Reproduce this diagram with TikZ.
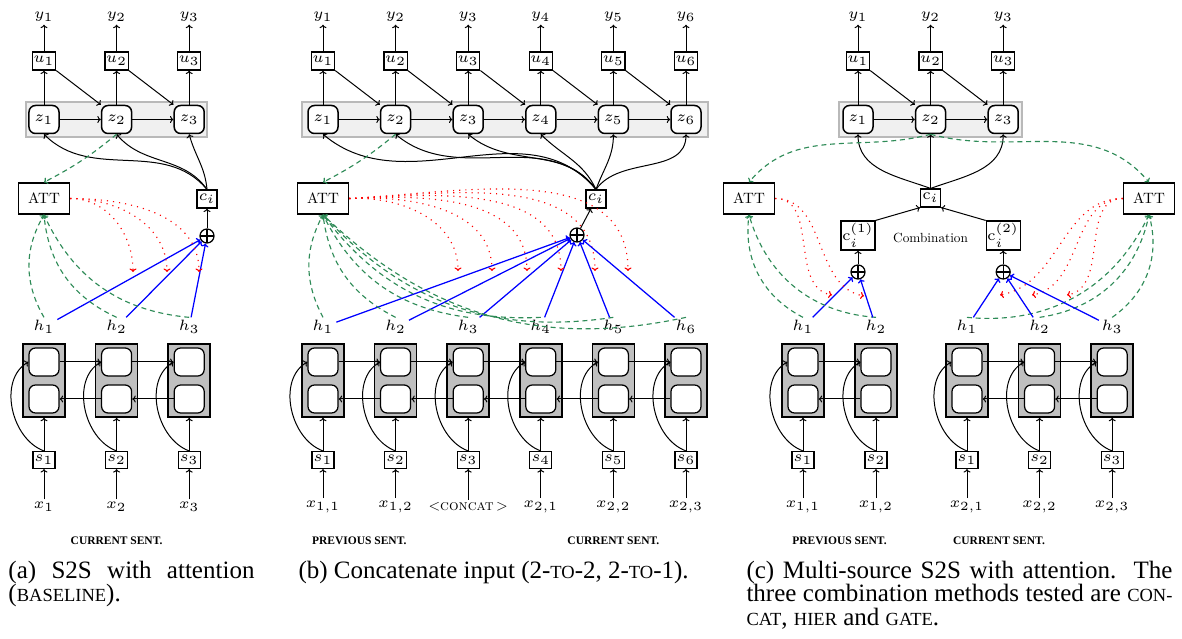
\documentclass[tikz,border=0pt]{standalone}
\usepackage{fontspec}
\newfontfamily\capfont{Liberation Serif}
\usetikzlibrary{arrows.meta}
\definecolor{sgreen}{RGB}{46,139,87}
\newcommand\fsc[1]{{\fontsize{7.4}{9}\selectfont #1}}
\newcommand\dfont{\fontsize{6}{7}\selectfont}
\newcommand\stxt[2]{\scalebox{#1}{\fontsize{10}{12}\selectfont #2}}
\newcommand\deccol[3]{%
  \node[lbl] (#1y#2) at (#3,17) {$y_{#2}$};
  \node[ubox] (#1u#2) at (#3,61) {$u_{#2}$};
  \node[zbox] (#1z#2) at (#3,119.5) {$z_{#2}$};
  \draw[arr] (#1z#2) -- (#1u#2);
  \draw[arr] (#1u#2) -- (#1y#2);
}
\newcommand\enccol[4]{%
  \node[lbl] (#1h#2) at (#3,327) {$h_{#2}$};
  \node[enc] (#1e#2) at (#3,380.5) {};
  \node[cell] (#1t#2) at (#3,362) {};
  \node[cell] (#1b#2) at (#3,399) {};
  \node[sbox] (#1s#2) at (#3,460) {$s_{#2}$};
  \node[lbl] (#1x#2) at (#3,507) {#4};
  \draw[arr] (#1x#2) -- (#1s#2);
  \draw[arr] (#1s#2) -- (#1e#2);
  \draw[arr] (#1s#2.north) to[out=160,in=210] (#1t#2.west);
}
\begin{document}
\begin{tikzpicture}[x=0.4pt,y=-0.4pt,
  >={To[length=1.4pt,width=2.8pt]},
  every node/.style={font=\dfont},
  lbl/.style={inner sep=1pt},
  ubox/.style={draw,line width=0.45pt,minimum width=9.2pt,minimum height=7.2pt,inner sep=0.5pt},
  zbox/.style={draw,line width=0.6pt,rounded corners=2.6pt,fill=white,minimum width=12pt,minimum height=11.2pt,inner sep=0.5pt},
  band/.style={draw=gray!55,fill=gray!12,line width=0.6pt},
  attbox/.style={draw,line width=0.6pt,minimum width=20.4pt,minimum height=12.4pt,inner sep=0.5pt},
  cbox/.style={draw,line width=0.45pt,minimum width=8pt,minimum height=7.2pt,inner sep=0.5pt},
  cmbox/.style={draw,line width=0.45pt,minimum width=12.4pt,minimum height=11.6pt,inner sep=0.5pt},
  opl/.style={circle,draw,line width=0.5pt,minimum size=5.6pt,inner sep=0pt,
    path picture={\draw[line width=0.5pt] (path picture bounding box.north) -- (path picture bounding box.south)
      (path picture bounding box.west) -- (path picture bounding box.east);}},
  enc/.style={draw,fill=black!25,line width=0.6pt,minimum width=16.8pt,minimum height=29.2pt,inner sep=0pt},
  cell/.style={draw,fill=white,rounded corners=2.6pt,line width=0.5pt,minimum width=12pt,minimum height=11.2pt,inner sep=0pt},
  sbox/.style={draw,line width=0.45pt,minimum width=8.8pt,minimum height=6.8pt,inner sep=0.5pt},
  arr/.style={->,line width=0.4pt},
  gdash/.style={->,sgreen,line width=0.45pt,dash pattern=on 2pt off 1.5pt},
  rdot/.style={->,red,line width=0.45pt,dotted},
  bl/.style={->,blue,line width=0.5pt},
  sent/.style={font=\capfont\fontsize{4.6}{5}\selectfont\bfseries,inner sep=0pt},
  capt/.style={font=\capfont\fontsize{10}{9.4}\selectfont,anchor=base west,inner sep=0pt,align=justify}
]
\fill[white] (0,0) rectangle (1182,639);
\useasboundingbox (0,0) rectangle (1182,639);

% ================= (a) =================
\draw[band] (26,102) rectangle (207,137);
\deccol{a}{1}{44}
\deccol{a}{2}{116.6}
\deccol{a}{3}{189.2}
\foreach \i/\j in {1/2,2/3} {
  \draw[arr] (az\i) -- (az\j);
  \draw[arr] (au\i.south east) -- (az\j.north west);
}
\enccol{a}{1}{44}{$x_1$}
\enccol{a}{2}{116.6}{$x_2$}
\enccol{a}{3}{189.2}{$x_3$}
\foreach \i/\j in {1/2,2/3} {
  \draw[arr] (at\i.east) -- (at\j.west);
  \draw[arr] (ab\j.west) -- (ab\i.east);
}
\node[attbox] (aatt) at (44,198.5) {\stxt{0.6}{ATT}};
\node[cbox] (aci) at (207,199) {$c_i$};
\node[opl] (aop) at (207,236) {};
\draw[arr] (aop) -- (aci);
\draw[arr] (aci.north) to[out=130,in=-45] (az1.south);
\draw[arr] (aci.north) to[out=125,in=-50] (az2.south);
\draw[arr] (aci.north) to[out=95,in=-75] (az3.south);
\draw[gdash] (az2.south) to[bend left=6] (aatt.north);
\coordinate (ar1) at (133,272);
\coordinate (ar2) at (167,272);
\coordinate (ar3) at (199,272);
\foreach \i in {1,2,3} {
  \draw[gdash] (ah\i.north) to[bend left=30] (aatt.south);
  \draw[bl] (ah\i) -- (aop);
  \draw[rdot] (aatt.east) to[out=0,in=90] (ar\i);
}
\node[sent] (asent) at (116.6,541) {CURRENT SENT.};

% ================= (b) =================
\draw[band] (302,102) rectangle (708,137);
\deccol{b}{1}{323}
\deccol{b}{2}{395.6}
\deccol{b}{3}{468.2}
\deccol{b}{4}{540.8}
\deccol{b}{5}{613.4}
\deccol{b}{6}{686}
\foreach \i/\j in {1/2,2/3,3/4,4/5,5/6} {
  \draw[arr] (bz\i) -- (bz\j);
  \draw[arr] (bu\i.south east) -- (bz\j.north west);
}
\enccol{b}{1}{323}{$x_{1,1}$}
\enccol{b}{2}{395.6}{$x_{1,2}$}
\enccol{b}{3}{468.2}{\stxt{0.6}{$<$\textsc{concat}$\,>$}}
\enccol{b}{4}{540.8}{$x_{2,1}$}
\enccol{b}{5}{613.4}{$x_{2,2}$}
\enccol{b}{6}{686}{$x_{2,3}$}
\foreach \i/\j in {1/2,2/3,3/4,4/5,5/6} {
  \draw[arr] (bt\i.east) -- (bt\j.west);
  \draw[arr] (bb\j.west) -- (bb\i.east);
}
\node[attbox] (batt) at (323,198.5) {\stxt{0.6}{ATT}};
\node[cbox] (bci) at (596,199) {$c_i$};
\node[opl] (bop) at (577,235) {};
\draw[arr] (bop) -- (bci);
\draw[arr] (bci.north) to[out=130,in=-40] (bz1.south);
\draw[arr] (bci.north) to[out=128,in=-40] (bz2.south);
\draw[arr] (bci.north) to[out=125,in=-40] (bz3.south);
\draw[arr] (bci.north) to[out=115,in=-45] (bz4.south);
\draw[arr] (bci.north) to[out=70,in=-90] (bz5.south);
\draw[arr] (bci.north) to[out=55,in=-90] (bz6.south);
\draw[gdash] (bz2.south) to[bend left=6] (batt.north);
\coordinate (br1) at (458,271);
\coordinate (br2) at (492,271);
\coordinate (br3) at (527,271);
\coordinate (br4) at (561,271);
\coordinate (br5) at (595,271);
\coordinate (br6) at (628,271);
\foreach \i in {1,...,6} {
  \draw[gdash] (bh\i.north) to[bend left=28] (batt.south);
  \draw[bl] (bh\i) -- (bop);
  \draw[rdot] (batt.east) to[out=3,in=90] (br\i);
}
\node[sent] (bsent1) at (359.3,541) {PREVIOUS SENT.};
\node[sent] (bsent2) at (613.4,541) {CURRENT SENT.};

% ================= (c) =================
\draw[band] (839,102) rectangle (1022,137);
\deccol{c}{1}{858}
\deccol{c}{2}{930.6}
\deccol{c}{3}{1003.2}
\foreach \i/\j in {1/2,2/3} {
  \draw[arr] (cz\i) -- (cz\j);
  \draw[arr] (cu\i.south east) -- (cz\j.north west);
}
\enccol{l}{1}{803}{$x_{1,1}$}
\enccol{l}{2}{876}{$x_{1,2}$}
\draw[arr] (lt1.east) -- (lt2.west);
\draw[arr] (lb2.west) -- (lb1.east);
\enccol{r}{1}{967}{$x_{2,1}$}
\enccol{r}{2}{1039.6}{$x_{2,2}$}
\enccol{r}{3}{1112.2}{$x_{2,3}$}
\foreach \i/\j in {1/2,2/3} {
  \draw[arr] (rt\i.east) -- (rt\j.west);
  \draw[arr] (rb\j.west) -- (rb\i.east);
}
\node[attbox] (latt) at (749,198.5) {\stxt{0.6}{ATT}};
\node[attbox] (ratt) at (1149,198.5) {\stxt{0.6}{ATT}};
\node[cbox] (cci) at (930.6,198) {$\mathrm{c}_i$};
\node[cmbox] (cc1) at (858,235.5) {$\mathrm{c}_i^{(1)}$};
\node[cmbox] (cc2) at (1003.2,235.5) {$\mathrm{c}_i^{(2)}$};
\node[inner sep=0pt] (comb) at (930.6,238) {\stxt{0.53}{Combination}};
\node[opl] (lop) at (858,272) {};
\node[opl] (rop) at (1003.2,272) {};
\draw[arr] (lop) -- (cc1);
\draw[arr] (rop) -- (cc2);
\draw[arr] (cc1.north east) -- (cci.south west);
\draw[arr] (cc2.north west) -- (cci.south east);
\draw[arr] (cci.north) to[out=160,in=-90] (cz1.south);
\draw[arr] (cci.north) -- (cz2.south);
\draw[arr] (cci.north) to[out=20,in=-90] (cz3.south);
\draw[gdash] (cz2.south) to[out=195,in=50] (latt.north);
\draw[gdash] (cz2.south) to[out=-15,in=130] (ratt.north);
\coordinate (lr1) at (832,295);
\coordinate (lr2) at (864,296);
\coordinate (rr1) at (1000,295);
\coordinate (rr2) at (1032,295);
\coordinate (rr3) at (1067,295);
\foreach \i in {1,2} {
  \draw[gdash] (lh\i.north) to[bend left=35] (latt.south);
  \draw[bl] (lh\i) -- (lop);
  \draw[rdot] (latt.east) to[out=0,in=170] (lr\i);
}
\foreach \i in {1,2,3} {
  \draw[gdash] (rh\i.north) to[bend right=35] (ratt.south);
  \draw[bl] (rh\i) -- (rop);
  \draw[rdot] (ratt.west) to[out=180,in=10] (rr\i);
}
\node[sent] (csent1) at (839.5,541) {PREVIOUS SENT.};
\node[sent] (csent2) at (999,541) {CURRENT SENT.};

% ================= captions =================
\node[capt,text width=98.4pt] (capa) at (8,578)
  {\hyphenpenalty=10000 \exhyphenpenalty=10000 (a) S2S with attention (\fsc{BASELINE}).};
\node[capt,text width=172pt] (capb) at (298,578)
  {\hyphenpenalty=10000 (b) Concatenate input (2-\fsc{TO}-2, 2-\fsc{TO}-1).};
\node[capt,text width=170.4pt] (capc) at (746,578)
  {\hyphenpenalty=10000 \exhyphenpenalty=10000 (c) Multi-source S2S with attention.\ \ The three combination methods tested are \fsc{CON-}\linebreak \fsc{CAT}, \fsc{HIER} and \fsc{GATE}.};
\end{tikzpicture}
\end{document}
